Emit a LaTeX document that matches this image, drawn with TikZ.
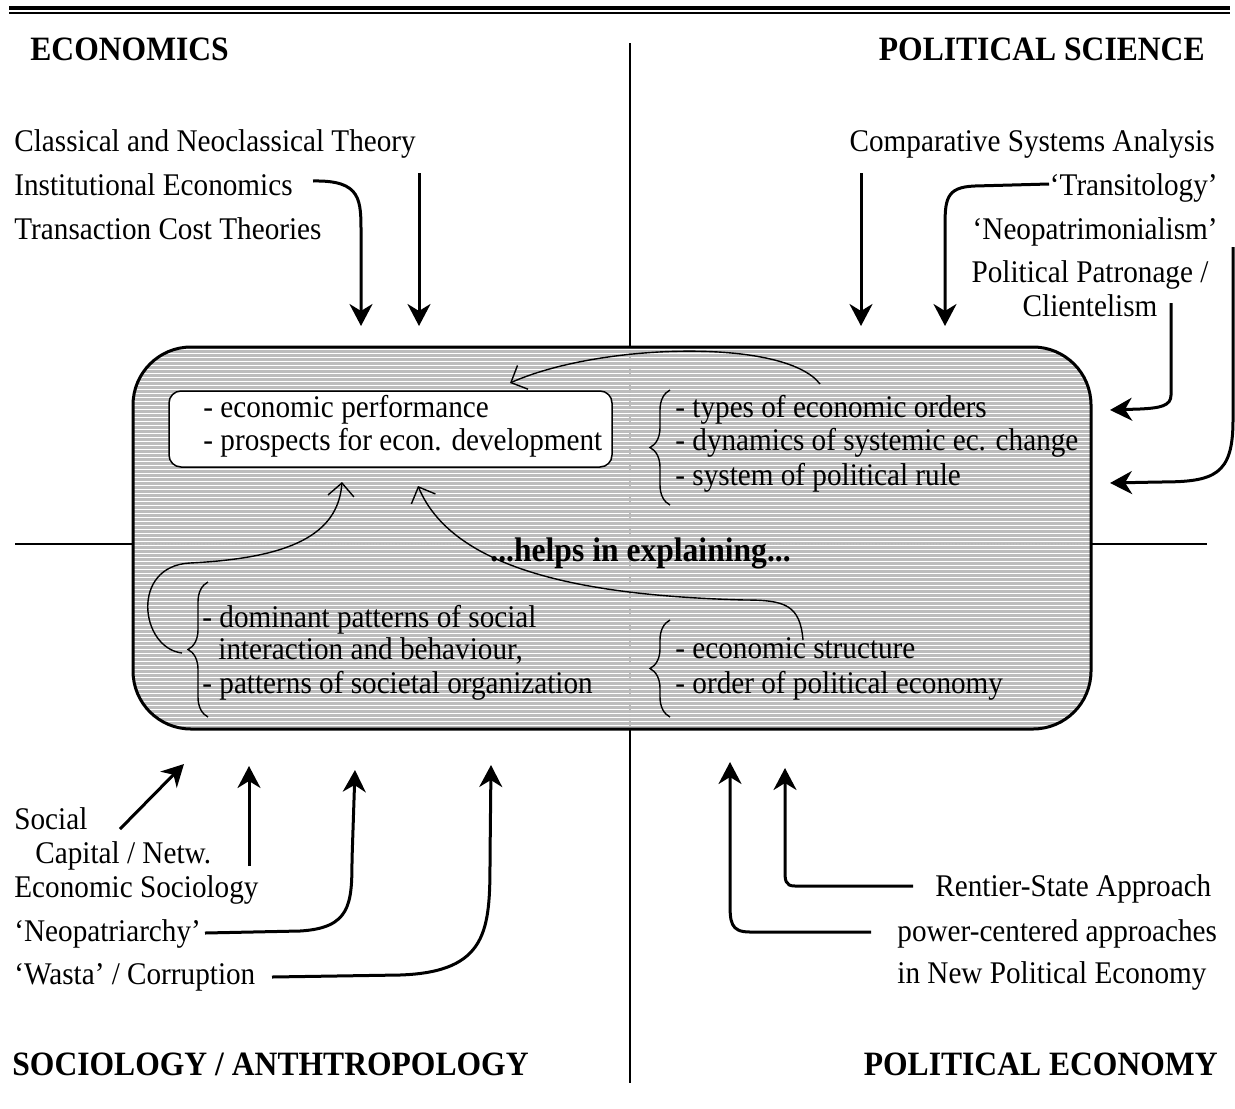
\documentclass[tikz,border=0pt]{standalone}
\usepackage{fontspec}
\setmainfont{Liberation Serif}
\usetikzlibrary{arrows.meta,decorations.pathreplacing}

% text is set slightly taller than wide
\newcommand{\tall}[1]{\scalebox{1}[1.08]{#1}}

\tikzset{
  txt/.style={inner sep=0pt, font=\fontsize{14.6pt}{17pt}\selectfont},
  head/.style={inner sep=0pt, font=\fontsize{15.8pt}{18pt}\selectfont\bfseries},
  axis/.style={line width=0.75pt},
  inaxis/.style={line width=0.6pt, gray!55, densely dotted},
  bigarrow/.style={line width=1.5pt, -{Stealth[length=11pt,width=11.5pt,inset=3.5pt]}},
  thinarrow/.style={line width=0.7pt, -{Straight Barb[length=6.5pt,width=13pt]}},
  bracket/.style={line width=0.7pt, decorate, decoration={brace, amplitude=10pt}},
}

\begin{document}
\begin{tikzpicture}[x=0.5pt, y=-0.5pt]
\useasboundingbox (0,0) rectangle (1235,1108);

% rule at the top of the figure
\draw[line width=1.6pt] (9,8) -- (1230,8);
\draw[line width=0.85pt] (9,13) -- (1230,13);

% quadrant axes outside the central panel
\draw[axis] (630,43) -- (630,347);
\draw[axis] (630,729) -- (630,1083);
\draw[axis] (15,544) -- (133,544);
\draw[axis] (1091,544) -- (1207,544);

% central panel with horizontal hatching
\begin{scope}
  \path[clip, rounded corners=29pt] (133,347) rectangle (1091,729);
  \fill[black!26] (133,347) rectangle (1091,729);
  \foreach \yy in {349,353,...,729}
    \draw[white, line width=0.5pt] (133,\yy) -- (1091,\yy);
  \draw[inaxis] (630,347) -- (630,729);
  \draw[inaxis] (133,544) -- (1091,544);
\end{scope}
\draw[line width=1.5pt, rounded corners=29pt] (133,347) rectangle (1091,729);

% quadrant headings
\node[head, anchor=base west] (econ) at (30,60) {\tall{ECONOMICS}};
\node[head, anchor=base east] (polsci) at (1205,60) {\tall{POLITICAL SCIENCE}};
\node[head, anchor=base west] (sociol) at (12,1075) {\tall{SOCIOLOGY / ANTHTROPOLOGY}};
\node[head, anchor=base east] (polecon) at (1218,1075) {\tall{POLITICAL ECONOMY}};

% economics approaches
\node[txt, anchor=base west] (classic) at (14,151) {\tall{Classical and Neoclassical Theory}};
\node[txt, anchor=base west] (inst) at (14,195) {\tall{Institutional Economics}};
\node[txt, anchor=base west] (trans) at (14,239) {\tall{Transaction Cost Theories}};

% political science approaches
\node[txt, anchor=base east] (comp) at (1215,151) {\tall{Comparative Systems Analysis}};
\node[txt, anchor=base east] (transit) at (1218,195) {\tall{‘Transitology’}};
\node[txt, anchor=base east] (neopat) at (1218,239) {\tall{‘Neopatrimonialism’}};
\node[txt, anchor=base] (patron) at (1090,282) {\tall{Political Patronage /}};
\node[txt, anchor=base] (client) at (1090,316) {\tall{Clientelism}};

% sociology approaches
\node[txt, anchor=base west] (social) at (14,829) {\tall{Social}};
\node[txt, anchor=base west] (capital) at (35,863) {\tall{Capital / Netw.}};
\node[txt, anchor=base west] (econsoc) at (14,897) {\tall{Economic Sociology}};
\node[txt, anchor=base west] (neopatri) at (14,941) {\tall{‘Neopatriarchy’}};
\node[txt, anchor=base west] (wasta) at (14,984) {\tall{‘Wasta’ / Corruption}};

% political economy approaches
\node[txt, anchor=base west] (rentier) at (935,896) {\tall{Rentier-State Approach}};
\node[txt, anchor=base west] (power) at (897,941) {\tall{power-centered approaches}};
\node[txt, anchor=base west] (npe) at (897,983) {\tall{in New Political Economy}};

% panel contents
\draw[line width=0.75pt, fill=white, rounded corners=6pt] (169,391) rectangle (612,467);
\node[txt, anchor=base west] (perf) at (203,417) {\tall{- economic performance}};
\node[txt, anchor=base west] (prosp) at (203,450) {\tall{- prospects for econ. development}};

\node[txt, anchor=base west] (types) at (675,417) {\tall{- types of economic orders}};
\node[txt, anchor=base west] (dyn) at (675,450) {\tall{- dynamics of systemic ec. change}};
\node[txt, anchor=base west] (rule) at (675,485) {\tall{- system of political rule}};

\node[txt, anchor=base west] (dom) at (202,627) {\tall{- dominant patterns of social}};
\node[txt, anchor=base west] (inter) at (218,659) {\tall{interaction and behaviour,}};
\node[txt, anchor=base west] (orgn) at (202,693) {\tall{- patterns of societal organization}};

\node[txt, anchor=base west] (struct) at (675,658) {\tall{- economic structure}};
\node[txt, anchor=base west] (order) at (675,693) {\tall{- order of political economy}};

\node[head, anchor=base west] (helps) at (490,561) {\tall{...helps in explaining...}};

% braces grouping the panel items
\coordinate (brA1) at (670,505); \coordinate (brA2) at (670,390);
\coordinate (brB1) at (208,717); \coordinate (brB2) at (208,582);
\coordinate (brC1) at (670,717); \coordinate (brC2) at (670,620);
\draw[bracket] (brA1) -- (brA2);
\draw[bracket] (brB1) -- (brB2);
\draw[bracket] (brC1) -- (brC2);

% arrow tips
\coordinate (tEco1) at (361,326);
\coordinate (tEco2) at (419,326);
\coordinate (tPol1) at (861,326);
\coordinate (tPol2) at (945,326);
\coordinate (tPol3) at (1110,410);
\coordinate (tPol4) at (1110,483);
\coordinate (tSoc1) at (184,764);
\coordinate (tSoc2) at (249,766);
\coordinate (tSoc3) at (355,770);
\coordinate (tSoc4) at (491,765);
\coordinate (tPe1) at (785,768);
\coordinate (tPe2) at (730,762);

% economics arrows
\draw[bigarrow] (313,181) .. controls (362,180) and (361,200) .. (361,235) -- (tEco1);
\draw[bigarrow] (419,173) -- (tEco2);

% political science arrows
\draw[bigarrow] (861,173) -- (tPol1);
\draw[bigarrow] (1049,184) -- (975,186) .. controls (945,187) and (945,200) .. (945,230) -- (tPol2);
\draw[bigarrow] (1171,303) -- (1171,395) .. controls (1171,406) and (1160,408) .. (1140,409) -- (tPol3);
\draw[bigarrow] (1233,247) -- (1233,420) .. controls (1233,475) and (1215,482) .. (1160,482) -- (tPol4);

% sociology arrows
\draw[bigarrow] (120,829) -- (tSoc1);
\draw[bigarrow] (249,866) -- (tSoc2);
\draw[bigarrow] (205,933) -- (300,931) .. controls (350,928) and (352,905) .. (352,860) -- (tSoc3);
\draw[bigarrow] (272,977) -- (400,975) .. controls (488,972) and (490,930) .. (490,860) -- (tSoc4);

% political economy arrows
\draw[bigarrow] (913,886) -- (795,886) .. controls (785,886) and (785,880) .. (785,870) -- (tPe1);
\draw[bigarrow] (871,932) -- (750,932) .. controls (730,932) and (730,922) .. (730,900) -- (tPe2);

% feedback arrows inside the panel
\coordinate (fA) at (820,384);
\coordinate (fAtip) at (510,383);
\coordinate (fB) at (182,653);
\coordinate (fBtip) at (342,482);
\coordinate (fC) at (803,640);
\coordinate (fCtip) at (418,486);
\draw[thinarrow] (fA) .. controls (785,338) and (600,343) .. (fAtip);
\draw[thinarrow] (fB) .. controls (140,648) and (130,566) .. (190,563)
  .. controls (290,558) and (338,535) .. (fBtip);
\draw[thinarrow] (fC) .. controls (800,605) and (785,600) .. (745,600)
  .. controls (600,596) and (455,575) .. (fCtip);
\end{tikzpicture}
\end{document}
